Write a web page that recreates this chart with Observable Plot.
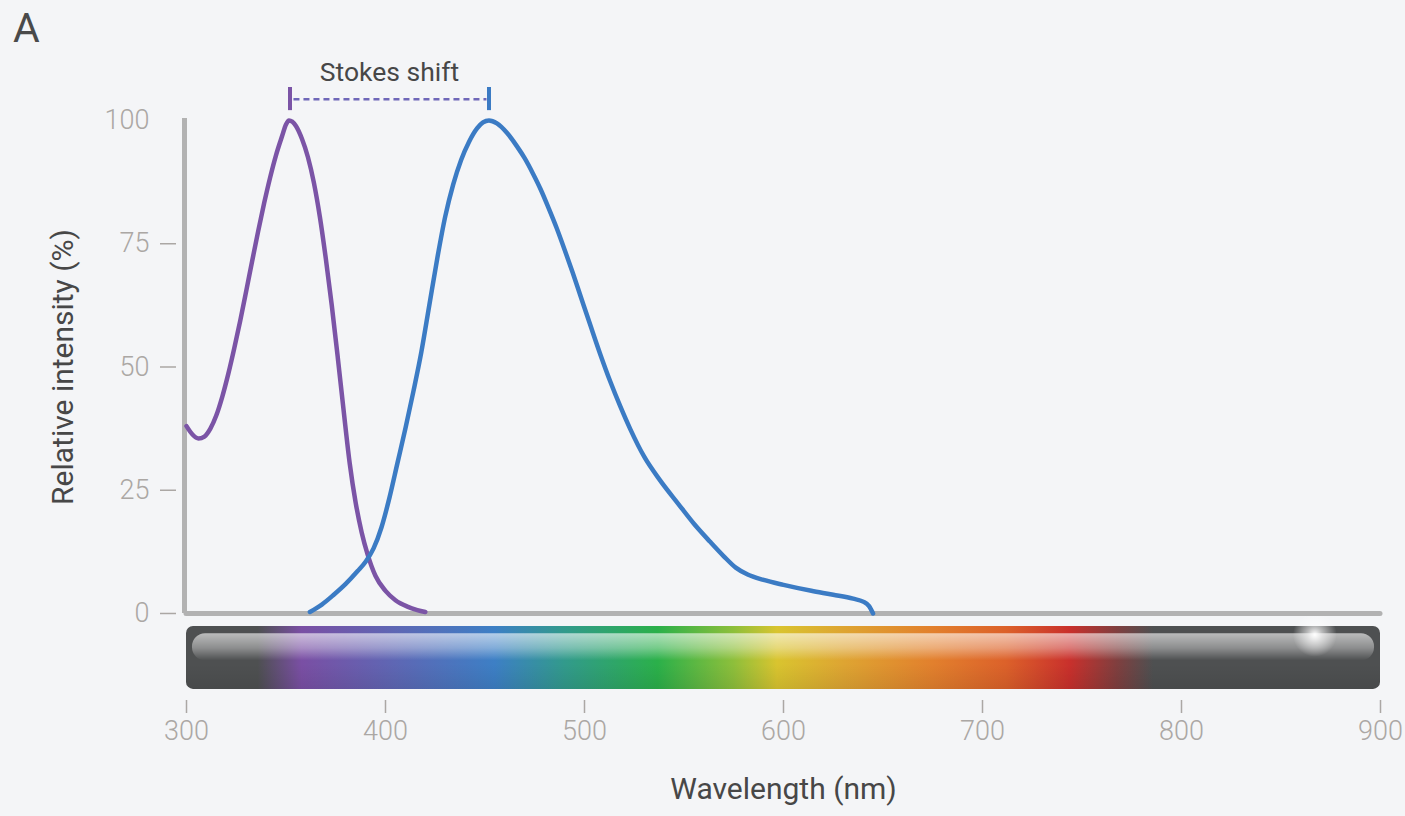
<!DOCTYPE html>
<html>
<head>
<meta charset="utf-8">
<script src="https://cdn.jsdelivr.net/npm/d3@7"></script>
<script src="https://cdn.jsdelivr.net/npm/@observablehq/plot@0.6"></script>
<style>
  body { margin: 0; background: #f4f5f7; font-family: Roboto, "Open Sans", sans-serif; }
  #wrap { position: relative; width: 1405px; height: 816px; overflow: hidden; }
  #head { position: relative; height: 50px; }
  #title { position: absolute; top: 8px; left: 13px; font-size: 41px; line-height: 41px; color: #4a4a4a; font-weight: 400; }
  #chart svg { display: block; }
</style>
</head>
<body>
<div id="wrap">
  <div id="head"><div id="title">A</div></div>
  <div id="chart"></div>
</div>
<script>
// ---- Data ----
const excitationNm  = [300, 303, 306, 309, 312, 315, 318, 321, 324, 327, 330, 333, 336, 339, 342, 345, 348, 350, 351.5, 355, 358, 361, 364, 367, 370, 373, 376, 379, 382, 385, 388, 391, 395, 400, 405, 411, 416, 420];
const excitationPct = [38, 36.3, 35.5, 35.9, 37.5, 40.2, 44, 48.6, 53.8, 59.4, 65.4, 71.5, 77.5, 83.2, 88.4, 93, 96.8, 99.2, 100, 98.9, 96.3, 92.6, 87.4, 80.5, 72, 62.5, 52, 41, 30.5, 22.5, 16.5, 12, 7.6, 4.6, 2.7, 1.4, 0.7, 0.3];

const emissionNm  = [362, 368, 374, 380, 386, 390, 394, 398, 402, 406, 410, 414, 418, 422, 426, 430, 434, 438, 442, 446, 449, 452, 456, 461, 466, 470, 474, 478, 482, 486, 490, 494, 498, 503, 508, 513, 518, 523, 530, 538, 547, 555, 563, 570, 576, 582, 590, 600, 614, 625, 635, 640, 643, 645];
const emissionPct = [0.3, 1.8, 3.8, 6.0, 8.6, 10.5, 13.2, 17.5, 23.5, 30.5, 37.5, 45, 53, 62.5, 72, 80.5, 87, 92, 95.7, 98.4, 99.6, 100, 99.4, 97.5, 94.8, 92.3, 89.3, 86, 82.2, 78.2, 73.8, 69.2, 64.4, 58.4, 52.5, 47, 42, 37.4, 31.8, 27, 22.3, 18.2, 14.6, 11.6, 9.3, 7.9, 6.8, 5.8, 4.6, 3.8, 3.0, 2.4, 1.5, 0];

const xTicks = [300, 400, 500, 600, 700, 800, 900];
const yTicks = [0, 25, 50, 75, 100];
const yDashTicks = [0, 25, 50, 75];

const stokesFrom = 352;   // excitation peak (nm)
const stokesTo = 452;     // emission peak (nm)
const stokesLabel = "Stokes shift";

const spectrumNm     = [300, 336, 358, 405, 455, 490, 537, 575, 597, 630, 675, 712, 744, 768, 786, 900];
const spectrumColors = ["#4e5051", "#4e5051", "#7a4fa4", "#5e67b4", "#3d7fc5", "#329a8c", "#2bb04a", "#8dbf3b", "#d9c42f", "#dea532", "#e2802d", "#dc612a", "#c9302c", "#7f3f3f", "#4e5051", "#4e5051"];

const xDomain = [300, 900];
const yDomain = [-17.65, 100];
const barBand = {top: -2.64, bottom: -15.4};
const glossBand = {top: -4.1, bottom: -9.6};
const glowAt = {x: 867, y: -4.3};

// ---- Chart ----
const excitation = excitationNm.map((x, i) => ({x, y: excitationPct[i]}));
const emission = emissionNm.map((x, i) => ({x, y: emissionPct[i]}));

const purple = "#7b54a6";
const blue = "#3b7bc4";
const axisGray = "#b2b2b2";
const tickGray = "#aba7a4";
const textDark = "#474747";

function defs() {
  const d = d3.create("svg:defs");
  const g = d.append("linearGradient").attr("id", "spectrum").attr("x1", 0).attr("x2", 1).attr("y1", 0).attr("y2", 0);
  spectrumNm.forEach((nm, i) => {
    g.append("stop").attr("offset", (nm - xDomain[0]) / (xDomain[1] - xDomain[0])).attr("stop-color", spectrumColors[i]);
  });
  const gl = d.append("linearGradient").attr("id", "gloss").attr("x1", 0).attr("x2", 0).attr("y1", 0).attr("y2", 1);
  gl.append("stop").attr("offset", 0).attr("stop-color", "#fff").attr("stop-opacity", 0.62);
  gl.append("stop").attr("offset", 0.55).attr("stop-color", "#fff").attr("stop-opacity", 0.35);
  gl.append("stop").attr("offset", 1).attr("stop-color", "#fff").attr("stop-opacity", 0.0);
  const gs = d.append("linearGradient").attr("id", "shade").attr("x1", 0).attr("x2", 0).attr("y1", 0).attr("y2", 1);
  gs.append("stop").attr("offset", 0).attr("stop-color", "#000").attr("stop-opacity", 0.0);
  gs.append("stop").attr("offset", 0.6).attr("stop-color", "#000").attr("stop-opacity", 0.0);
  gs.append("stop").attr("offset", 1).attr("stop-color", "#000").attr("stop-opacity", 0.08);
  const rg = d.append("radialGradient").attr("id", "glow");
  rg.append("stop").attr("offset", 0).attr("stop-color", "#fff").attr("stop-opacity", 1);
  rg.append("stop").attr("offset", 0.35).attr("stop-color", "#fff").attr("stop-opacity", 0.6);
  rg.append("stop").attr("offset", 1).attr("stop-color", "#fff").attr("stop-opacity", 0);
  return d.node();
}

const bar = [{x1: xDomain[0], x2: xDomain[1], y1: barBand.top, y2: barBand.bottom}];
const gloss = [{x1: xDomain[0], x2: xDomain[1], y1: glossBand.top, y2: glossBand.bottom}];

const chart = Plot.plot({
  width: 1405,
  height: 766,
  marginLeft: 186,
  marginRight: 25,
  marginTop: 70,
  marginBottom: 116,
  x: {domain: xDomain},
  y: {domain: yDomain},
  style: {background: "transparent", fontFamily: "Roboto, 'Open Sans', sans-serif", overflow: "visible"},
  marks: [
    defs,
    // spectrum bar
    Plot.rect(bar, {x1: "x1", x2: "x2", y1: "y1", y2: "y2", fill: "url(#spectrum)", rx: 7}),
    Plot.rect(bar, {x1: "x1", x2: "x2", y1: "y1", y2: "y2", fill: "url(#shade)", rx: 7}),
    Plot.rect(gloss, {x1: "x1", x2: "x2", y1: "y1", y2: "y2", fill: "url(#gloss)", rx: 13, insetLeft: 6, insetRight: 6}),
    Plot.dot([glowAt], {x: "x", y: "y", r: 22, fill: "url(#glow)", stroke: null}),
    // axis lines
    Plot.ruleX([xDomain[0]], {y1: 0, y2: 100.4, stroke: axisGray, strokeWidth: 5, dx: -2}),
    Plot.ruleY([0], {x1: xDomain[0], x2: xDomain[1], stroke: axisGray, strokeWidth: 5, strokeLinecap: "round"}),
    // axes
    Plot.axisX({ticks: xTicks, tickSize: 13, tickPadding: 7, stroke: tickGray, strokeWidth: 1.5, fill: tickGray, fontSize: 27, fontWeight: 300, label: null}),
    Plot.axisY({ticks: yDashTicks, tickSize: 16, dx: -10, stroke: tickGray, strokeWidth: 1.5, fill: "none", label: null}),
    Plot.axisY({ticks: yTicks, tickSize: 0, tickPadding: 37, fill: tickGray, fontSize: 27, fontWeight: 300, label: null}),
    // curves
    Plot.line(excitation, {x: "x", y: "y", stroke: purple, strokeWidth: 4.5, curve: "monotone-x"}),
    Plot.line(emission, {x: "x", y: "y", stroke: blue, strokeWidth: 4.5, curve: "monotone-x"}),
    // Stokes shift annotation
    Plot.ruleY([104.3], {x1: stokesFrom + 2, x2: stokesTo - 1, stroke: "#6f67b8", strokeWidth: 2.5, strokeDasharray: "6,4"}),
    Plot.ruleX([stokesFrom], {y1: 102, y2: 106.7, stroke: purple, strokeWidth: 4}),
    Plot.ruleX([stokesTo], {y1: 102, y2: 106.7, stroke: blue, strokeWidth: 4}),
    Plot.text([stokesLabel], {x: (stokesFrom + stokesTo) / 2, y: 109.8, fontSize: 26.5, fill: textDark}),
    // axis titles
    Plot.text(["Wavelength (nm)"], {frameAnchor: "bottom", dy: 98, fontSize: 30, fill: textDark}),
    Plot.text(["Relative intensity (%)"], {x: xDomain[0], y: yTicks[2], dx: -123, rotate: -90, fontSize: 30, fill: textDark})
  ]
});
document.getElementById("chart").appendChild(chart);
</script>
</body>
</html>
